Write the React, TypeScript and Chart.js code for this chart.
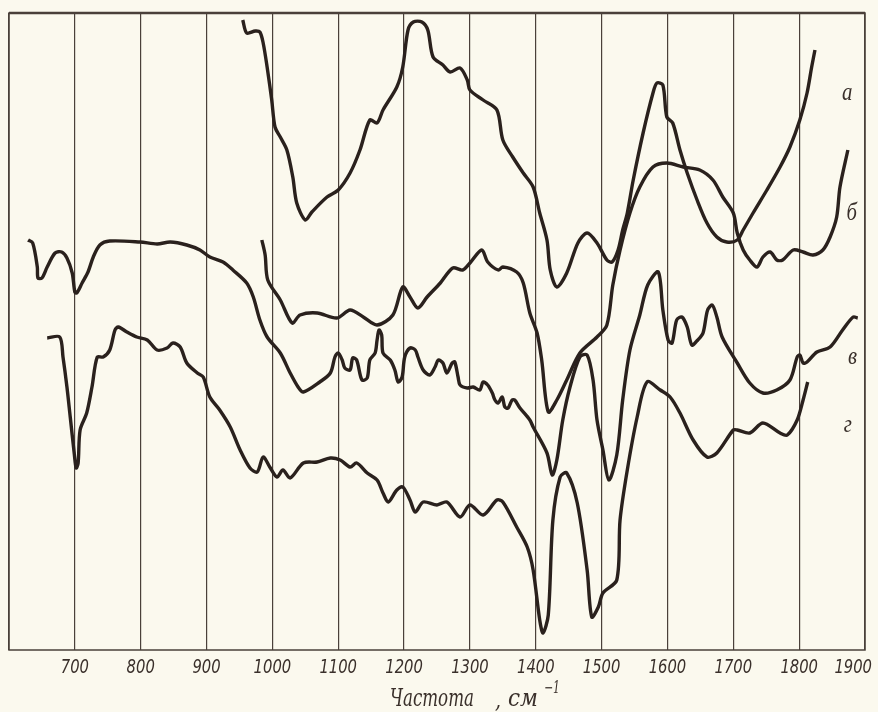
import React, { useEffect, useRef } from 'react';
import { Chart, registerables } from 'chart.js';

Chart.register(...registerables);

// Wavenumber grid / tick labels (cm^-1)
const waveTicks = [700, 800, 900, 1000, 1100, 1200, 1300, 1400, 1500, 1600, 1700, 1800, 1900];

// Curve а : [wavenumber, relative transmission]
const curveA: [number, number][] = [
  [955, 63.0], [961, 61.7], [974, 61.9], [981, 61.8], [986, 60.7], [992, 58.3], [999, 55.0], [1004, 52.3],
  [1012, 51.3], [1022, 50.0], [1031, 47.3], [1037, 44.7], [1050, 43.0], [1060, 43.8], [1083, 45.3], [1100, 46.0],
  [1118, 47.7], [1133, 50.0], [1148, 53.0], [1159, 52.7], [1168, 54.0], [1189, 56.3], [1198, 58.3], [1206, 62.0],
  [1214, 62.8], [1227, 62.8], [1236, 62.0], [1244, 59.3], [1259, 58.5], [1270, 57.8], [1285, 58.2], [1296, 57.0],
  [1300, 56.0], [1320, 55.0], [1341, 54.0], [1350, 51.0], [1365, 49.3], [1381, 47.7], [1396, 46.3], [1406, 43.7],
  [1417, 41.0], [1422, 38.0], [1432, 36.3], [1447, 37.7], [1464, 40.7], [1478, 41.7], [1493, 40.7], [1508, 39.0],
  [1516, 38.8], [1525, 40.0], [1532, 42.0], [1539, 43.7], [1548, 47.0], [1563, 51.7], [1578, 55.7], [1584, 56.7],
  [1593, 56.5], [1599, 53.3], [1608, 52.7], [1619, 50.0], [1630, 47.7], [1645, 45.0], [1660, 42.7], [1675, 41.3],
  [1690, 40.8], [1706, 41.0], [1715, 42.0], [1730, 43.7], [1751, 46.0], [1771, 48.3], [1786, 50.3], [1801, 53.0],
  [1812, 55.7], [1819, 58.3], [1824, 60.0],
];

// Curve б
const curveB: [number, number][] = [
  [984, 41.0], [989, 39.5], [993, 37.0], [1012, 35.0], [1030, 32.7], [1042, 33.5], [1068, 33.7], [1098, 33.2],
  [1118, 34.0], [1138, 33.3], [1159, 32.5], [1183, 33.5], [1198, 36.3], [1209, 35.3], [1221, 34.2], [1235, 35.3],
  [1255, 36.7], [1274, 38.2], [1289, 38.0], [1300, 38.7], [1318, 40.0], [1327, 38.8], [1343, 38.0], [1350, 38.3],
  [1371, 37.8], [1381, 36.7], [1391, 33.7], [1402, 31.7], [1409, 29.0], [1419, 23.8], [1432, 25.0], [1447, 27.0],
  [1467, 29.7], [1493, 31.3], [1508, 32.5], [1517, 36.5], [1528, 40.0], [1543, 43.7], [1558, 46.3], [1578, 48.3],
  [1599, 48.7], [1624, 48.3], [1649, 48.0], [1669, 47.0], [1684, 45.3], [1700, 43.7], [1706, 41.7], [1715, 40.0],
  [1725, 39.0], [1736, 38.3], [1745, 39.3], [1756, 39.8], [1766, 39.0], [1775, 39.0], [1791, 40.0], [1806, 39.8],
  [1821, 39.5], [1836, 40.0], [1847, 41.3], [1857, 43.3], [1862, 46.3], [1874, 50.0],
];

// Curve в
const curveV: [number, number][] = [
  [629, 41.0], [636, 40.7], [643, 38.3], [644, 37.2], [650, 37.2], [658, 38.3], [670, 39.7], [680, 39.8],
  [688, 39.2], [696, 37.7], [700, 35.8], [703, 35.7], [711, 36.7], [720, 37.8], [728, 39.3], [738, 40.5],
  [753, 40.9], [799, 40.8], [825, 40.6], [845, 40.8], [870, 40.5], [890, 40.0], [905, 39.3], [925, 38.8],
  [940, 38.0], [961, 36.7], [971, 35.3], [981, 33.0], [992, 31.3], [1012, 29.7], [1027, 27.7], [1039, 26.3],
  [1047, 25.8], [1072, 26.8], [1088, 27.7], [1095, 29.3], [1100, 29.7], [1106, 29.0], [1110, 28.2], [1118, 28.0],
  [1122, 29.2], [1128, 29.0], [1136, 27.0], [1144, 27.2], [1148, 29.0], [1156, 29.7], [1159, 31.0], [1162, 32.0],
  [1166, 31.5], [1168, 29.7], [1179, 29.0], [1186, 28.0], [1191, 26.8], [1197, 27.3], [1201, 29.3], [1209, 30.2],
  [1217, 30.0], [1221, 29.3], [1229, 28.0], [1239, 27.5], [1247, 28.3], [1252, 29.0], [1259, 28.7], [1265, 27.7],
  [1273, 28.7], [1277, 28.8], [1282, 27.3], [1285, 26.5], [1296, 26.2], [1305, 26.3], [1315, 26.0], [1320, 26.8],
  [1327, 26.5], [1334, 25.7], [1338, 25.0], [1343, 24.7], [1349, 25.3], [1353, 24.3], [1358, 24.2], [1364, 25.0],
  [1368, 25.0], [1376, 24.2], [1391, 23.0], [1396, 22.3], [1417, 19.7], [1425, 17.5], [1432, 19.0], [1441, 23.0],
  [1452, 26.3], [1467, 29.3], [1478, 29.5], [1487, 27.0], [1493, 23.0], [1502, 20.0], [1511, 17.0], [1523, 19.5],
  [1532, 25.0], [1543, 30.0], [1558, 33.5], [1570, 36.5], [1586, 37.8], [1593, 34.0], [1601, 31.0], [1607, 30.7],
  [1614, 33.0], [1622, 33.3], [1630, 32.3], [1637, 30.5], [1646, 31.0], [1654, 31.7], [1661, 34.0], [1668, 34.5],
  [1675, 33.3], [1683, 31.3], [1706, 28.7], [1725, 26.7], [1745, 25.7], [1766, 26.0], [1786, 27.0], [1797, 29.3],
  [1801, 29.5], [1806, 28.7], [1812, 28.8], [1827, 29.8], [1847, 30.3], [1866, 32.0], [1882, 33.3], [1889, 33.2],
];

// Curve г
const curveG: [number, number][] = [
  [658, 31.2], [677, 31.3], [682, 29.3], [688, 26.3], [693, 23.3], [699, 19.7], [702, 18.2], [705, 18.7],
  [708, 22.0], [718, 23.7], [726, 26.3], [734, 29.3], [743, 29.3], [753, 30.0], [761, 32.0], [766, 32.3],
  [779, 31.8], [794, 31.3], [810, 31.0], [825, 30.0], [840, 30.2], [849, 30.7], [860, 30.3], [870, 28.7],
  [886, 27.7], [895, 27.3], [905, 25.3], [920, 24.0], [936, 22.3], [951, 20.0], [966, 18.2], [977, 17.8],
  [986, 19.3], [996, 18.3], [1007, 17.3], [1016, 18.0], [1027, 17.2], [1047, 18.7], [1068, 18.8], [1088, 19.2],
  [1103, 19.0], [1118, 18.3], [1128, 18.7], [1144, 17.7], [1159, 17.0], [1168, 15.7], [1176, 14.8], [1189, 16.0],
  [1198, 16.3], [1209, 15.0], [1217, 13.8], [1229, 14.8], [1250, 14.5], [1265, 14.8], [1285, 13.3], [1300, 14.5],
  [1320, 13.5], [1341, 15.0], [1350, 14.8], [1371, 12.3], [1387, 10.3], [1396, 8.0], [1406, 3.0], [1411, 1.7],
  [1419, 3.5], [1426, 13.0], [1437, 17.3], [1447, 17.7], [1463, 14.7], [1478, 8.0], [1485, 3.3], [1495, 4.3],
  [1502, 5.7], [1523, 7.0], [1528, 13.0], [1539, 18.0], [1554, 23.3], [1569, 26.8], [1589, 26.0], [1604, 25.3],
  [1619, 23.7], [1639, 21.0], [1660, 19.3], [1675, 19.7], [1700, 22.0], [1706, 22.0], [1725, 21.7], [1745, 22.7],
  [1771, 21.7], [1782, 21.5], [1797, 23.0], [1806, 25.0], [1813, 26.8],
];

const seriesNames = ['а', 'б', 'в', 'г'];
const seriesCurves = [curveA, curveB, curveV, curveG];
// label anchor points (wavenumber, value)
const labelAnchors: [number, number][] = [[1873, 55.7], [1880, 43.7], [1881, 29.3], [1874, 22.5]];

// axis title pieces: "Частота , см⁻¹"
const axisTitleWord = 'Частота';
const axisTitleComma = ',';
const axisTitleUnit = 'см';
const axisTitleSup = '−1';

const INK = '#2a211d';
const GRID = '#4a403a';
const PAPER = '#fbf9ee';

const decor = {
  id: 'decor',
  beforeDraw(chart: any) {
    const { ctx, width, height } = chart;
    ctx.save();
    ctx.fillStyle = PAPER;
    ctx.fillRect(0, 0, width, height);
    ctx.restore();
  },
  afterDraw(chart: any) {
    const { ctx, chartArea: ca, scales, width } = chart;
    const x = scales.x;
    const y = scales.y;
    ctx.save();
    // frame
    ctx.strokeStyle = GRID;
    ctx.lineWidth = 1.5;
    ctx.strokeRect(ca.left, ca.top, ca.right - ca.left, ca.bottom - ca.top);
    ctx.lineWidth = 2.5;
    ctx.beginPath();
    ctx.moveTo(ca.left, ca.top);
    ctx.lineTo(ca.right, ca.top);
    ctx.stroke();

    // tick labels
    ctx.fillStyle = '#3a302b';
    ctx.font = 'italic 20px "Liberation Sans Narrow", "DejaVu Sans Condensed", sans-serif';
    ctx.textAlign = 'center';
    ctx.textBaseline = 'middle';
    const sx = 0.82;
    waveTicks.forEach((v) => {
      const w = ctx.measureText(String(v)).width * sx;
      let px = x.getPixelForValue(v);
      px = Math.min(px, width - 6 - w / 2);
      ctx.save();
      ctx.translate(px, ca.bottom + 18);
      ctx.scale(sx, 1);
      ctx.fillText(String(v), 0, 0);
      ctx.restore();
    });

    // axis title, placed in pieces
    ctx.textAlign = 'left';
    ctx.textBaseline = 'alphabetic';
    const ty = ca.bottom + 56;
    const drawFit = (txt: string, left: number, base: number, size: number, fitW: number) => {
      ctx.font = `italic ${size}px "DejaVu Serif Condensed", "DejaVu Serif", serif`;
      const w = ctx.measureText(txt).width;
      ctx.save();
      ctx.translate(left, base);
      ctx.scale(fitW / w, 1);
      ctx.fillText(txt, 0, 0);
      ctx.restore();
    };
    drawFit(axisTitleWord, 390, ty, 25, 84);
    drawFit(axisTitleComma, 495, ty + 2, 25, 6);
    drawFit(axisTitleUnit, 508, ty, 25, 30);
    drawFit(axisTitleSup, 544, ty - 13, 16, 16);

    // series labels
    ctx.font = 'italic 26px "Liberation Serif", "DejaVu Serif", serif';
    ctx.textAlign = 'center';
    ctx.textBaseline = 'middle';
    seriesNames.forEach((n, i) => {
      const [lv, ly] = labelAnchors[i];
      ctx.save();
      ctx.translate(x.getPixelForValue(lv), y.getPixelForValue(ly));
      ctx.scale(0.8, 1);
      ctx.fillText(n, 0, 0);
      ctx.restore();
    });
    ctx.restore();
  },
};

export default function App() {
  const ref = useRef<HTMLCanvasElement | null>(null);
  useEffect(() => {
    if (!ref.current) return;
    const chart = new Chart(ref.current, {
      type: 'line',
      data: {
        datasets: seriesCurves.map((c, i) => ({
          label: seriesNames[i],
          data: c.map(([wv, val]) => ({ x: wv, y: val })),
          borderColor: INK,
          borderWidth: 3.4,
          pointRadius: 0,
          tension: 0.3,
          fill: false,
        })),
      },
      options: {
        animation: false,
        responsive: false,
        maintainAspectRatio: false,
        layout: { padding: { left: 9, top: 13, right: 13, bottom: 0 } },
        plugins: { legend: { display: false }, tooltip: { enabled: false }, title: { display: false } },
        scales: {
          x: {
            type: 'linear',
            min: 600,
            max: 1900,
            ticks: { stepSize: 100, display: false },
            grid: { color: GRID, lineWidth: 1.2, drawTicks: false },
            border: { display: false },
            afterFit: (s: any) => {
              s.height = 62;
            },
          },
          y: {
            type: 'linear',
            min: 0,
            max: 63.7,
            display: false,
          },
        },
      },
      plugins: [decor],
    });
    return () => chart.destroy();
  }, []);
  return (
    <div style={{ position: 'fixed', left: 0, top: 0, width: 878, height: 712, background: PAPER }}>
      <canvas ref={ref} width={878} height={712} style={{ display: 'block' }} />
    </div>
  );
}
